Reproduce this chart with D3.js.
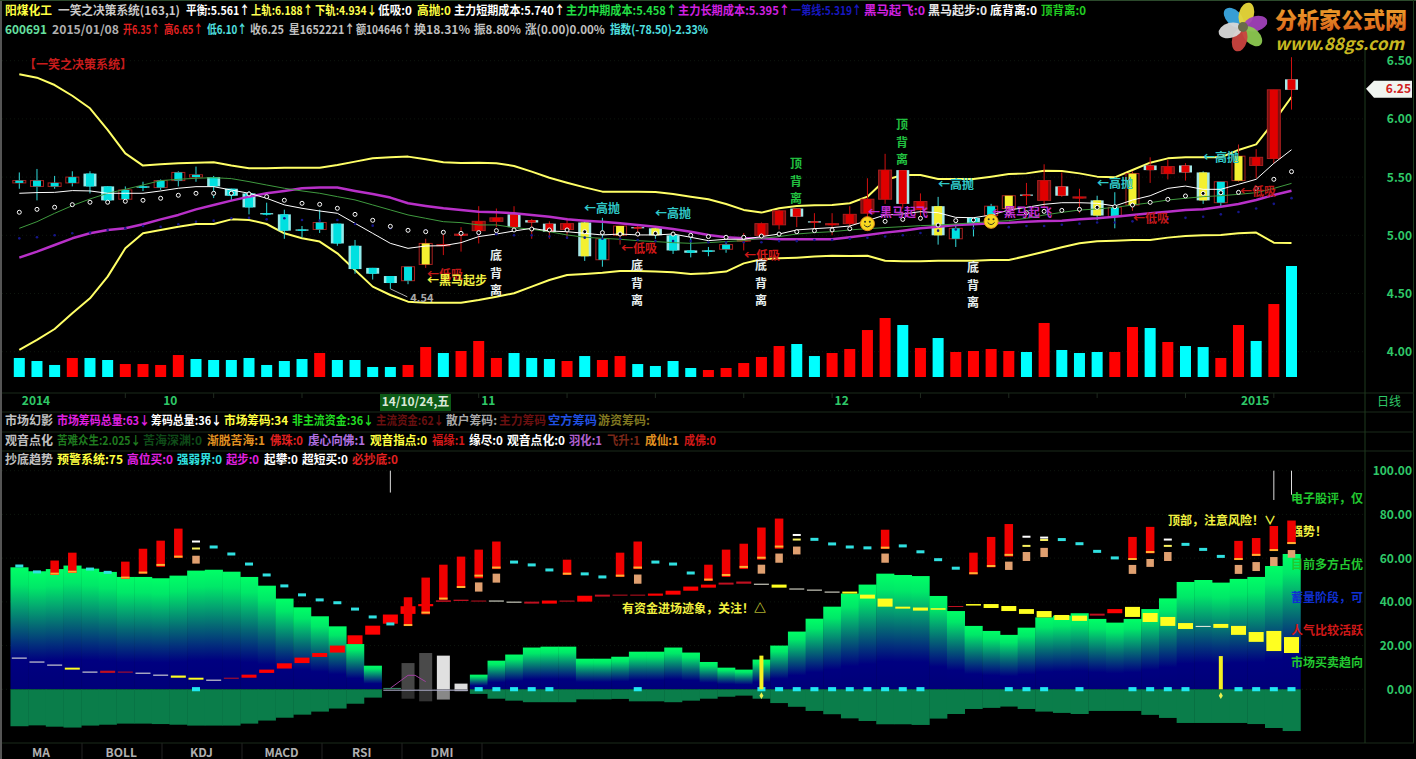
<!DOCTYPE html>
<html><head><meta charset="utf-8">
<script src="https://cdn.jsdelivr.net/npm/d3@7/dist/d3.min.js"></script>
<style>html,body{margin:0;padding:0;background:#000;overflow:hidden}svg{display:block}text{font-family:"Noto Sans CJK SC","Noto Sans",sans-serif}</style>
</head><body><svg id="c" width="1416" height="759"></svg>
<script>
// ---------- candle data ----------
const bodyHigh=[5.47,5.47,5.45,5.50,5.53,5.42,5.39,5.42,5.47,5.54,5.52,5.50,5.40,5.36,5.19,5.18,5.05,5.11,5.10,4.91,4.72,4.65,4.73,4.93,4.92,5.01,5.12,5.15,5.18,5.13,5.10,5.10,5.11,4.97,5.08,5.07,5.06,5.00,4.87,4.87,4.92,4.96,5.10,5.21,5.23,5.12,5.10,5.18,5.31,5.56,5.56,5.29,5.25,5.06,5.15,5.25,5.34,5.35,5.47,5.42,5.33,5.30,5.24,5.53,5.60,5.59,5.60,5.54,5.46,5.68,5.67,6.25,6.34];
const bodyLow=[5.45,5.42,5.42,5.45,5.42,5.30,5.31,5.41,5.41,5.47,5.50,5.42,5.34,5.24,5.18,5.04,5.04,5.05,4.93,4.71,4.67,4.59,4.61,4.75,4.91,5.00,5.04,5.12,5.07,5.11,5.03,5.05,4.82,4.79,5.00,5.06,5.00,4.87,4.85,4.86,4.88,4.95,5.00,5.09,5.16,5.11,5.09,5.10,5.19,5.31,5.27,5.22,5.00,4.97,5.09,5.17,5.23,5.34,5.30,5.34,5.32,5.17,5.16,5.26,5.56,5.53,5.54,5.30,5.28,5.47,5.60,5.66,6.25];
const high=[5.54,5.57,5.51,5.55,5.55,5.42,5.42,5.46,5.48,5.55,5.59,5.51,5.40,5.38,5.28,5.22,5.08,5.22,5.10,4.96,4.72,4.65,4.73,4.97,5.02,5.07,5.25,5.23,5.25,5.14,5.12,5.15,5.13,5.15,5.08,5.09,5.07,5.03,5.02,4.90,4.95,5.02,5.11,5.22,5.23,5.19,5.19,5.25,5.49,5.70,5.56,5.36,5.33,5.10,5.15,5.27,5.34,5.45,5.61,5.54,5.40,5.34,5.37,5.55,5.67,5.65,5.62,5.55,5.46,5.78,5.74,6.25,6.53];
const low=[5.40,5.30,5.40,5.42,5.36,5.27,5.29,5.38,5.39,5.42,5.46,5.32,5.30,5.18,5.17,4.97,4.98,5.02,4.91,4.67,4.62,4.54,4.58,4.72,4.83,4.86,4.93,5.07,5.05,4.97,4.97,4.97,4.78,4.73,4.92,4.99,4.97,4.84,4.81,4.82,4.85,4.87,4.99,5.05,5.07,5.05,5.00,5.05,5.15,5.27,5.23,5.15,4.92,4.90,4.99,5.13,5.23,5.26,5.23,5.33,5.19,5.13,5.06,5.21,5.45,5.48,5.47,5.27,5.25,5.46,5.49,5.62,6.08];
const outerKind="RRRRCCRCRR"+"RCCCCCCRCC"+"CCRRRRRRLL"+"LRLRRLLCCC"+"RRRRLLRRRR"+"LRLRCRRLRL"+"RLRRLRLLRR"+"RRL";
const innerKind="cccccccccc"+"cccccccccc"+"cccyrrrrrr"+"rrycyryccc"+"crrrrrrrrr"+"rrycccyrrr"+"rycyrrrycy"+"rrr";
// ---------- price overlay lines ----------
const upperBand=[6.383,6.354,6.291,6.199,6.091,5.905,5.704,5.599,5.610,5.619,5.624,5.627,5.599,5.576,5.576,5.581,5.581,5.581,5.604,5.633,5.662,5.670,5.676,5.653,5.627,5.621,5.624,5.619,5.596,5.547,5.495,5.452,5.412,5.375,5.375,5.375,5.372,5.355,5.332,5.309,5.269,5.218,5.195,5.232,5.252,5.258,5.261,5.275,5.332,5.475,5.518,5.518,5.484,5.484,5.484,5.504,5.527,5.532,5.555,5.552,5.532,5.504,5.498,5.561,5.624,5.661,5.670,5.670,5.670,5.733,5.781,5.976,6.188];
const lowerBand=[4.015,4.101,4.195,4.330,4.459,4.645,4.888,5.017,5.046,5.074,5.097,5.097,5.137,5.132,5.097,5.017,4.974,4.946,4.845,4.702,4.559,4.487,4.430,4.421,4.421,4.421,4.444,4.473,4.502,4.559,4.616,4.659,4.668,4.679,4.694,4.694,4.688,4.682,4.668,4.673,4.688,4.759,4.794,4.802,4.808,4.817,4.825,4.822,4.825,4.782,4.777,4.777,4.782,4.782,4.782,4.788,4.788,4.822,4.859,4.897,4.931,4.948,4.954,4.960,4.960,4.980,4.994,5.000,5.002,5.017,5.023,4.937,4.934];
const shortCost=[5.361,5.367,5.369,5.384,5.381,5.361,5.361,5.361,5.381,5.404,5.418,5.418,5.389,5.361,5.318,5.261,5.232,5.209,5.189,5.103,5.017,4.931,4.888,4.908,4.911,4.937,4.989,5.011,5.037,5.060,5.037,5.031,5.017,5.003,5.011,5.003,5.003,5.011,4.983,4.954,4.966,4.966,4.989,5.011,5.046,5.057,5.066,5.080,5.126,5.175,5.183,5.203,5.194,5.154,5.151,5.174,5.217,5.240,5.266,5.280,5.280,5.275,5.252,5.303,5.340,5.403,5.423,5.395,5.395,5.438,5.481,5.618,5.735];
const midCost=[5.060,5.117,5.189,5.255,5.312,5.361,5.395,5.432,5.470,5.481,5.490,5.495,5.487,5.461,5.432,5.404,5.381,5.361,5.332,5.304,5.261,5.218,5.175,5.146,5.117,5.109,5.089,5.089,5.066,5.052,5.031,5.003,4.983,4.974,4.966,4.954,4.946,4.937,4.931,4.937,4.946,4.954,4.974,4.989,5.011,5.023,5.031,5.046,5.057,5.066,5.074,5.083,5.088,5.097,5.108,5.117,5.126,5.146,5.174,5.197,5.217,5.226,5.240,5.260,5.280,5.303,5.318,5.332,5.340,5.352,5.366,5.403,5.446];
const longCost=[4.808,4.860,4.917,4.974,5.017,5.046,5.060,5.095,5.137,5.175,5.223,5.261,5.298,5.332,5.361,5.381,5.404,5.410,5.410,5.381,5.355,5.324,5.275,5.252,5.232,5.218,5.203,5.198,5.189,5.175,5.160,5.137,5.126,5.117,5.103,5.089,5.074,5.054,5.031,5.003,4.983,4.974,4.974,4.966,4.966,4.966,4.966,4.983,5.003,5.023,5.040,5.060,5.074,5.088,5.094,5.103,5.108,5.117,5.123,5.126,5.137,5.146,5.160,5.174,5.189,5.203,5.217,5.223,5.246,5.269,5.303,5.346,5.383];
const balance=[5.198,5.223,5.241,5.263,5.284,5.284,5.292,5.301,5.318,5.344,5.361,5.361,5.361,5.355,5.332,5.301,5.275,5.266,5.232,5.180,5.129,5.077,5.043,5.031,5.026,5.017,5.023,5.040,5.046,5.054,5.046,5.046,5.031,5.023,5.011,5.011,5.017,5.011,5.000,4.989,4.983,4.983,4.994,5.011,5.031,5.040,5.046,5.057,5.097,5.120,5.137,5.146,5.088,5.126,5.131,5.146,5.189,5.194,5.206,5.214,5.223,5.240,5.246,5.260,5.283,5.309,5.338,5.360,5.366,5.369,5.403,5.481,5.547];
const firstLine=[4.974,4.983,5.00,5.017,5.023,5.046,5.06,5.08,5.074,5.095,5.117,5.126,5.146,5.15,5.137,5.146,5.132,5.126,5.132,5.097,5.083,5.06,5.05,5.04,5.03,5.02,5.01,5.01,5.00,5.00,4.99,4.98,4.98,4.97,4.97,4.96,4.95,4.95,4.95,4.94,4.94,4.94,4.94,4.95,4.95,4.96,4.96,4.97,4.98,4.99,5.00,5.02,5.04,5.05,5.06,5.07,5.07,5.08,5.08,5.09,5.10,5.11,5.11,5.12,5.13,5.14,5.15,5.16,5.18,5.20,5.23,5.27,5.319];
// ---------- volume (×10000) ----------
const volume=[28.3,23.8,17.9,28.3,28.3,25.3,19.3,19.3,17.9,32.7,26.8,25.3,25.3,28.3,17.9,23.8,26.8,35.7,25.3,25.3,14.9,14.9,17.9,44.6,35.7,38.7,53.6,28.3,35.7,28.3,26.8,23.8,31.2,25.3,31.2,19.3,16.4,23.8,13.4,10.4,13.4,20.8,29.8,46.1,49.1,31.2,35.7,41.7,69.9,87.8,77.4,43.2,58.0,37.2,38.7,41.7,38.7,37.2,80.4,40.2,35.7,37.2,37.2,74.4,72.9,52.1,46.1,44.6,28.3,77.4,53.6,108.6,165.2];
const volumeUp=[0,0,0,1,0,0,1,1,1,1,0,0,0,0,0,0,0,1,0,0,0,0,1,1,0,1,1,1,0,0,0,1,0,1,1,0,0,0,0,1,1,1,1,1,0,0,1,1,1,1,0,1,0,1,1,1,1,0,1,0,0,0,1,1,0,1,0,0,1,1,0,1,0];
// ---------- lower pane ----------
const areaTop=[55.8,54.0,55.0,56.6,55.2,53.7,51.4,51.4,50.8,52.0,54.3,54.7,53.8,51.4,47.4,41.5,37.5,33.4,28.8,20.7,10.8,0,0,0,0,0,6.7,13.1,15.9,19.1,19.5,19.5,14.0,14.0,14.9,17.2,17.2,19.1,16.8,12.5,9.9,9.0,13.6,20.0,26.4,32.3,37.8,43.8,47.9,52.9,52.3,51.8,42.7,35.8,29.0,26.7,24.9,28.2,32.9,33.7,34.8,32.2,30.5,32.2,36.7,41.6,49.1,50.0,48.8,50.5,51.4,56.4,61.9];
const areaBottom=[16.9,16.5,17.1,17.5,16.6,16.2,15.7,15.7,15.9,16.2,16.6,16.6,16.6,15.7,14.3,13.0,11.6,10.2,8.8,6.6,3.8,0,0,0,0,0,2.1,4.3,5.2,5.9,5.9,5.9,4.6,4.6,4.4,5.5,5.5,5.9,5.2,4.3,3.4,2.9,4.3,6.3,8.0,9.9,11.4,13.3,14.5,16.0,16.0,16.3,13.4,11.3,9.0,8.5,7.9,9.0,10.2,10.8,11.3,9.9,9.9,9.9,11.7,13.1,15.4,15.4,15.4,15.4,15.9,17.7,19.1];
const blockHigh=[14.5,12.7,11.3,9.9,8.1,8.5,8.1,7.6,6.7,6.3,5.3,4.4,5.3,6.7,9.0,11.9,14.5,16.6,20.0,24.7,29.1,34.2,38.0,39.0,40.7,41.0,40.6,40.6,40.1,40.1,40.6,40.6,42.8,43.3,43.3,43.3,43.8,45.1,47.0,47.9,48.8,49.3,48.3,47.9,46.1,45.6,44.7,44.7,43.3,41.5,37.8,37.4,37.1,38.1,39.0,39.0,38.1,36.7,35.8,34.0,33.7,34.6,36.7,37.7,34.9,33.1,30.3,29.0,29.9,29.0,26.2,26.7,23.9];
const blockLow=[14.2,12.4,11.0,9.0,7.8,7.5,7.8,7.3,6.4,5.3,4.4,4.1,4.9,5.3,7.5,9.5,12.0,14.8,16.8,20.7,25.0,30.0,34.5,38.0,40.0,40.4,40.3,40.3,39.8,39.2,39.2,40.1,40.1,42.4,43.0,43.0,42.8,43.3,45.1,46.5,47.9,48.3,48.0,46.5,45.7,45.3,44.4,43.8,41.5,37.8,36.9,36.0,36.4,37.7,38.3,37.2,35.8,34.5,32.9,31.7,31.3,33.7,34.8,33.1,30.8,29.0,27.6,28.7,28.1,24.9,21.7,17.5,16.6];
const blockKind="wwwywddwwy"+"ywdrrrrrrr"+"rrrrdddwwd"+"rdrdddrrrr"+"ddwywwwyyy"+"yyydyyyyyy"+"ydryyyywyy"+"yyy";
const riseIdx=[2,3,6,7,8,9,22,23,24,25,26,27,31,34,35,39,40,41,42,43,49,54,55,56,63,64,69,70,71,72];
const riseTop=[58.9,62.5,58.4,64.3,68.0,73.5,42.1,51.1,57.0,60.7,63.9,67.6,59.3,62.5,67.6,57.0,63.9,66.6,74.0,78.1,73.0,62.5,69.7,75.6,69.7,74.3,67.9,69.2,74.7,77.2];
const riseBottom=[52.3,53.2,50.5,52.9,56.0,60.1,29.0,34.3,41.0,46.4,50.8,55.0,52.3,51.4,55.0,49.6,51.4,55.0,59.3,64.3,64.2,52.6,55.8,60.7,59.2,62.2,59.2,61.0,63.3,66.5];
const riseTick=[52.9,53.8,51.1,53.4,56.9,60.7,29.4,35.1,41.5,46.8,52.0,55.7,52.9,52.0,55.7,50.2,52.3,56.0,60.2,65.3,64.8,53.1,56.4,61.5,59.6,62.8,59.6,61.5,63.7,66.9];
const tanIdx=[10,26,27,35,42,43,44,49,56,57,58,63,64,65,69,70,71,72];
const tanTop=[61.1,48.9,52.9,52.5,57.0,62.1,65.3,62.1,58.4,62.8,64.7,56.9,59.6,62.8,56.9,58.2,60.5,63.7];
const tanBottom=[57.5,44.7,48.8,48.3,52.9,57.9,61.7,57.9,54.6,58.7,60.5,52.8,56.0,58.7,52.8,54.1,56.4,60.2];
const flagIdx=[10,44,57,58,65];
const flagWhite=[67.6,70.6,69.8,69.4,68.5];
const flagYellow=[64.4,68.5,65.6,68.3,65.6];
const cyanIdx=[0,1,4,5,11,12,13,14,15,16,17,18,19,20,21,28,29,30,32,33,36,37,38,45,46,47,48,50,51,52,53,59,60,61,62,66,67,68];
const cyanVal=[56.4,53.7,55.0,53.5,65.1,61.9,57.3,52.3,47.3,43.2,40.9,39.6,36.7,33.1,29.9,58.2,56.9,54.6,52.8,51.4,58.2,57.3,53.2,68.6,66.5,65.1,64.7,65.6,62.9,59.3,55.4,68.5,66.6,63.1,60.1,66.3,64.0,60.8];
const zeroSquareIdx=[10,26,27,28,29,30,35,42,43,44,45,46,47,48,49,50,51,56,57,58,60,63,64,65,66,69,70,71,72];
const alarmIdx=[42,68], alarmTop=[15.4,15.2], alarmDot=[-2.9,-2.9];
const grayIdx=[22,23,24,25], grayTop=[12.0,16.6,15.4,2.6], grayBottom=[-4.3,-5.5,-4.7,-0.9];
const grayFillTop=["#464646","#4a4a4a","#e0e0e0","#dcdcdc"], grayFillBottom=["#2e2e2e","#333333","#888888","#888888"];
const spikeIdx=[21,71,72], spikeEnd=[90,86.6,89];
const purpleIdx=[21,22,22.4,23], purpleVal=[0.5,6.4,6.4,3.5];
const priceTicks=[6.5,6.0,5.5,5.0,4.5,4.0];
const indTicks=[100,80,60,40,20,0];
const dateIdx=[0,8,26,46,69], dateLabels=["2014","10","11","12","2015"];
const smileIdx=[48,55], smilePrice=[5.10,5.12];
const tabs=["MA","BOLL","KDJ","MACD","RSI","DMI"];
const flowerColors=["#3aa7e0","#e8d83a","#a040b8","#8cc850","#c9433f","#d8d8d8"];
// header rows [text,color,x,width]
const headerRows=[
 [11,[["阳煤化工","#ffff40",5,47],["一笑之决策系统(163,1)","#c8c8c8",58,122],["平衡:5.561↑","#ffffff",186,64],["上轨:6.188↑","#ffff50",251,62],["下轨:4.934↓","#ffff50",315,62],["低吸:0","#ffffff",378,34],["高抛:0","#ffff40",417,34],["主力短期成本:5.740↑","#ffffff",454,111],["主力中期成本:5.458↑","#22dd44",566,111],["主力长期成本:5.395↑","#d020e0",678,112],["一第线:5.319↑","#1818c0",791,71],["黑马起飞:0","#d020e0",864,61],["黑马起步:0","#e8e8e8",928,59],["底背离:0","#ffffff",990,47],["顶背离:0","#22cc22",1041,45]]],
 [30,[["600691","#66e0a0",5,42],["2015/01/08","#b0b0b0",52,67],["开6.35↑","#e02020",123,37],["高6.65↑","#e02020",164,39],["低6.10↑","#50e0e0",207,40],["收6.25","#c0c0c0",250,34],["星1652221↑","#c0c0c0",289,66],["额104646↑","#c0c0c0",356,56],["换18.31%","#c0c0c0",414,56],["振8.80%","#c0c0c0",474,47],["涨(0.00)0.00%","#c0c0c0",525,80],["指数(-78.50)-2.33%","#50e0e0",610,98]]],
 [421,[["市场幻影","#c0c0c0",5,48],["市场筹码总量:63↓","#e020e0",57,93],["筹码总量:36↓","#ffffff",151,71],["市场筹码:34","#ffff40",224,64],["非主流资金:36↓","#22dd22",292,82],["主流资金:62↓","#6a1010",376,68],["散户筹码:","#a8a8a8",446,51],["主力筹码","#6a1010",499,47],["空方筹码","#2050e0",548,49],["游资筹码:","#807820",598,52]]],
 [441,[["观音点化","#c0c0c0",5,48],["苦难众生:2.025↓","#1f7a1f",57,84],["苦海深渊:0","#0f4a18",143,59],["渐脱苦海:1","#e09020",207,58],["佛珠:0","#e02020",270,33],["虔心向佛:1","#b070e0",308,57],["观音指点:0","#ffff40",370,57],["福缘:1","#d01818",432,33],["缘尽:0","#ffffff",469,34],["观音点化:0","#ffffff",507,58],["羽化:1","#b060d0",569,33],["飞升:1","#7a2818",607,33],["成仙:1","#e09020",645,34],["成佛:0","#d01818",684,32]]],
 [460,[["抄底趋势","#c0c0c0",5,48],["预警系统:75","#ffff40",57,66],["高位买:0","#e020e0",127,46],["强弱界:0","#30e0e0",177,45],["起步:0","#e020e0",226,33],["起攀:0","#ffffff",264,34],["超短买:0","#ffffff",302,46],["必抄底:0","#e02020",352,46]]]
];
// floating labels [text,color,x,y]
const priceNotes=[["【一笑之决策系统】","#c81c1c",24,65],
 ["←高抛","#30c8c8",584,209],["←高抛","#30c8c8",655,214],["←高抛","#30c8c8",938,185],["←高抛","#30c8c8",1097,184],["←高抛","#30c8c8",1203,158],
 ["←低吸","#c01818",427,275],["←低吸","#d01818",621,249],["←低吸","#d01818",744,256],["←低吸","#c01818",1133,219],["←低吸","#c01818",1240,192],
 ["←黑马起步","#f0f040",427,281],["←黑马起飞","#c030d0",868,213],["←黑马起飞","#c030d0",992,213]];
const verticalNotes=[["底","背","离","#e8f0f0",496,255],["底","背","离","#e8f0f0",637,265],["底","背","离","#e8f0f0",761,265],["底","背","离","#e8f0f0",973,267],["顶","背","离","#22c040",796,163],["顶","背","离","#22c040",902,124]];
const indicatorNotes=[["有资金进场迹象，关注！△","#f0f040",622,609],["顶部，注意风险！∨","#f0f040",1168,521]];
const sideNotes=[["电子股评，仅","#22c830",499],["强势！","#f0f040",532],["目前多方占优","#22c830",565],["蓄量阶段，可","#1030d0",598],["人气比较活跃","#d01818",631],["市场买卖趋向","#22c830",663]];

// ---------- scales ----------
const n=bodyHigh.length;
const x=d3.scaleLinear().domain([0,72]).range([19.3,1291.5]);
const yP=d3.scaleLinear().domain([4,6.5]).range([351.7,60.7]);
const yV=d3.scaleLinear().domain([0,d3.max(volume)]).range([377,266]);
const yI=d3.scaleLinear().domain([0,100]).range([689.3,470.7]);
const step=x(1)-x(0);
const idx=d3.range(n);
const svg=d3.select("#c");
const defs=svg.append("defs");
const grad=defs.append("linearGradient").attr("id","areaGrad").attr("x1",0).attr("y1",0).attr("x2",0).attr("y2",1);
[[0,"#00ff66"],[.14,"#00e868"],[.3,"#04a870"],[.46,"#056a74"],[.62,"#03307c"],[.76,"#000080"],[1,"#000078"]].forEach(s=>grad.append("stop").attr("offset",s[0]).attr("stop-color",s[1]));
const logoGrad=defs.append("linearGradient").attr("id","logoGrad").attr("x1",0).attr("y1",0).attr("x2",0).attr("y2",1);
logoGrad.append("stop").attr("offset",0).attr("stop-color","#f0b030");
logoGrad.append("stop").attr("offset",1).attr("stop-color","#d85a18");
defs.append("clipPath").attr("id","sideClip").append("rect").attr("x",1289).attr("y",465).attr("width",76).attr("height",220);

// ---------- frame ----------
const frame=svg.append("g");
frame.append("rect").attr("x",0).attr("y",0).attr("width",2).attr("height",759).attr("fill","#555");
frame.append("rect").attr("x",0).attr("y",0).attr("width",1416).attr("height",1).attr("fill","#2c4a2c");
frame.append("rect").attr("x",1413).attr("y",0).attr("width",1).attr("height",743).attr("fill","#1d3a1d");
frame.selectAll("line.h").data([393,412,432,451,743]).join("line").attr("x1",2).attr("x2",1414).attr("y1",d=>d).attr("y2",d=>d).attr("stroke","#1b2a1b");
frame.append("line").attr("x1",1365).attr("x2",1365).attr("y1",50).attr("y2",743).attr("stroke","#1f3a1f");
frame.selectAll("line.p").data(priceTicks).join("line").attr("class","p").attr("x1",2).attr("x2",1365).attr("y1",d=>yP(d)).attr("y2",d=>yP(d)).attr("stroke","#0e160e").attr("stroke-dasharray","1 3");
frame.selectAll("line.i").data(indTicks).join("line").attr("class","i").attr("x1",2).attr("x2",1365).attr("y1",d=>yI(d)).attr("y2",d=>yI(d)).attr("stroke","#0e160e").attr("stroke-dasharray","1 3");

// ---------- volume ----------
svg.append("g").selectAll("rect").data(idx).join("rect")
 .attr("x",i=>x(i)-5.5).attr("width",11).attr("y",i=>yV(volume[i])).attr("height",i=>377-yV(volume[i]))
 .attr("fill",i=>volumeUp[i]?"#ff0000":"#00ffff");

// ---------- bands behind candles ----------
const lineOf=(arr,scale)=>d3.line().x(i=>x(i)).y(i=>scale(arr[i]));
const path=(arr,color,w,scale=yP)=>svg.append("path").attr("d",lineOf(arr,scale)(idx)).attr("fill","none").attr("stroke",color).attr("stroke-width",w).attr("stroke-linejoin","round");
path(upperBand,"#ffff66",2);
path(lowerBand,"#ffff66",2);

// ---------- candles ----------
const innerColors={c:"#00e0e0",r:"#e00000",y:"#f4f030"};
const wickColor=i=>{const o=outerKind[i],k=innerKind[i];if(k==="y")return o==="L"?"#40d8d8":"#c02020";return k==="r"?"#d01010":"#30dcdc";};
const cg=svg.append("g");
cg.selectAll("line").data(idx).join("line").attr("x1",i=>x(i)).attr("x2",i=>x(i)).attr("y1",i=>yP(high[i])).attr("y2",i=>yP(low[i])).attr("stroke",wickColor).attr("stroke-width",1);
cg.selectAll("rect.o").data(idx).join("rect").attr("class","o")
 .attr("x",i=>x(i)-6.5).attr("width",13).attr("y",i=>yP(bodyHigh[i])).attr("height",i=>Math.max(1,yP(bodyLow[i])-yP(bodyHigh[i])))
 .attr("fill",i=>outerKind[i]==="R"?(innerKind[i]==="r"?"#7a1010":"#000"):(outerKind[i]==="C"?"#8feaea":"#a6e8e8")).attr("stroke",i=>outerKind[i]==="R"?"#a82020":"none");
cg.selectAll("rect.n").data(idx).join("rect").attr("class","n")
 .attr("x",i=>x(i)-4).attr("width",8).attr("y",i=>yP(bodyHigh[i])).attr("height",i=>Math.max(1.5,yP(bodyLow[i])-yP(bodyHigh[i])))
 .attr("fill",i=>innerColors[innerKind[i]]);

// ---------- overlay lines ----------
path(longCost,"#b830c8",2.5);
path(midCost,"#3f9a3f",1);
path(shortCost,"#ffffff",1);
svg.append("g").selectAll("circle").data(idx).join("circle").attr("cx",i=>x(i)).attr("cy",i=>yP(firstLine[i])).attr("r",1.3).attr("fill","#16168a");
svg.append("g").selectAll("circle").data(idx).join("circle").attr("cx",i=>x(i)).attr("cy",i=>yP(balance[i])).attr("r",2).attr("fill","#000").attr("stroke","#fff").attr("stroke-width",1);

// low marker
svg.append("line").attr("x1",x(21)).attr("y1",yP(low[21])).attr("x2",x(21)+17).attr("y2",yP(low[21])+8).attr("stroke","#aaa");
svg.append("text").attr("x",x(21)+20).attr("y",302).attr("font-size",11).attr("font-weight",700).attr("fill","#aaa").text(d3.format(".2f")(low[21]));

// smileys
const sm=svg.append("g").selectAll("g").data(smileIdx).join("g").attr("transform",(d,k)=>`translate(${x(d)},${yP(smilePrice[k])})`);
sm.append("circle").attr("r",7).attr("fill","#f8d820").attr("stroke","#e8901c");
sm.append("circle").attr("cx",-2.4).attr("cy",-2).attr("r",1).attr("fill","#332");
sm.append("circle").attr("cx",2.4).attr("cy",-2).attr("r",1).attr("fill","#332");
sm.append("path").attr("d","M-3.5,1 Q0,5.5 3.5,1").attr("fill","none").attr("stroke","#332").attr("stroke-width",1);

// notes
const notes=svg.append("g");
notes.selectAll("text").data(priceNotes).join("text").attr("x",d=>d[2]).attr("y",d=>d[3]+4).attr("font-size",12).attr("font-weight",700).attr("fill",d=>d[1]).text(d=>d[0]);
verticalNotes.forEach(v=>{[0,1,2].forEach(k=>notes.append("text").attr("x",v[4]).attr("y",v[5]+k*17.5+5).attr("text-anchor","middle").attr("font-size",12).attr("font-weight",700).attr("fill",v[3]).text(v[k]));});

// ---------- lower pane ----------
const lower=svg.append("g");
lower.selectAll("rect.a").data(idx.filter(i=>areaTop[i]>0)).join("rect").attr("class","a")
 .attr("x",i=>x(i)-step/2).attr("width",step+.4).attr("y",i=>yI(areaTop[i])).attr("height",i=>yI(0)-yI(areaTop[i])).attr("fill","url(#areaGrad)");
lower.selectAll("rect.b").data(idx.filter(i=>areaBottom[i]>0)).join("rect").attr("class","b")
 .attr("x",i=>x(i)-step/2).attr("width",step+.4).attr("y",yI(0)).attr("height",i=>yI(-areaBottom[i])-yI(0)).attr("fill","#0a7d4a");
// gray bars
lower.selectAll("rect.g1").data(grayIdx).join("rect").attr("class","g1").attr("x",d=>x(d)-6.5).attr("width",13).attr("y",(d,k)=>yI(grayTop[k])).attr("height",(d,k)=>yI(0)-yI(grayTop[k])).attr("fill",(d,k)=>grayFillTop[k]);
lower.selectAll("rect.g2").data(grayIdx).join("rect").attr("class","g2").attr("x",d=>x(d)-6.5).attr("width",13).attr("y",yI(0)).attr("height",(d,k)=>yI(grayBottom[k])-yI(0)).attr("fill",(d,k)=>grayFillBottom[k]);
lower.append("path").attr("d",d3.line().x(d=>x(d)).y((d,k)=>yI(purpleVal[k]))(purpleIdx)).attr("fill","none").attr("stroke","#a040a0");
lower.append("line").attr("x1",x(20.6)).attr("x2",x(25.4)).attr("y1",yI(-0.4)).attr("y2",yI(-0.4)).attr("stroke","#b8b8d8");
lower.append("line").attr("x1",x(20.6)).attr("x2",x(21.6)).attr("y1",yI(0.4)).attr("y2",yI(0.4)).attr("stroke","#3a8a6a");
// spikes
lower.selectAll("line.s").data(spikeIdx).join("line").attr("class","s").attr("x1",d=>x(d)).attr("x2",d=>x(d)).attr("y1",yI(100)).attr("y2",(d,k)=>yI(spikeEnd[k])).attr("stroke","#ddd");
// side commentary (clipped)
const side=lower.append("g").attr("clip-path","url(#sideClip)");
side.selectAll("text").data(sideNotes).join("text").attr("x",1291).attr("y",d=>d[2]+4).attr("font-size",12).attr("font-weight",700).attr("fill",d=>d[1]).text(d=>d[0]);
// rising bars
const bar=(sel,cls,ids,tops,bots,w,fill)=>sel.selectAll("rect."+cls).data(ids).join("rect").attr("class",cls).attr("x",d=>x(d)-w/2).attr("width",w).attr("y",(d,k)=>yI(tops[k])).attr("height",(d,k)=>Math.max(1,yI(bots[k])-yI(tops[k]))).attr("fill",fill);
const blockColors={w:"#f0f0e0",y:"#ffff20",r:"#ff0000",d:"#c01020"};
lower.selectAll("rect.k").data(idx).join("rect").attr("class","k").attr("x",i=>x(i)-7.5).attr("width",15).attr("y",i=>yI(blockHigh[i])).attr("height",i=>Math.max(1,yI(blockLow[i])-yI(blockHigh[i]))).attr("fill",i=>blockColors[blockKind[i]]);
bar(lower,"r",riseIdx,riseTop,riseBottom,8.5,"#f00000");
lower.selectAll("rect.t").data(riseIdx).join("rect").attr("class","t").attr("x",d=>x(d)-4.25).attr("width",8.5).attr("y",(d,k)=>yI(riseTick[k])-1).attr("height",2).attr("fill","#ffb030");
bar(lower,"n",tanIdx,tanTop,tanBottom,7.5,"#e0a070");
lower.selectAll("rect.fw").data(flagIdx).join("rect").attr("class","fw").attr("x",d=>x(d)-4).attr("width",8).attr("y",(d,k)=>yI(flagWhite[k])-1).attr("height",2).attr("fill","#fff");
lower.selectAll("rect.fy").data(flagIdx).join("rect").attr("class","fy").attr("x",d=>x(d)-4).attr("width",8).attr("y",(d,k)=>yI(flagYellow[k])-1).attr("height",2).attr("fill","#f8f060");
lower.selectAll("rect.c").data(cyanIdx).join("rect").attr("class","c").attr("x",d=>x(d)-4).attr("width",8).attr("y",(d,k)=>yI(cyanVal[k])-1.5).attr("height",3).attr("fill","#30e0e0");
lower.selectAll("rect.z").data(zeroSquareIdx).join("rect").attr("class","z").attr("x",d=>x(d)-4).attr("width",8).attr("y",yI(1)).attr("height",yI(-0.9)-yI(1)).attr("fill","#20e8f0");
lower.selectAll("rect.al").data(alarmIdx).join("rect").attr("class","al").attr("x",d=>x(d)-2).attr("width",4).attr("y",(d,k)=>yI(alarmTop[k])).attr("height",(d,k)=>yI(0)-yI(alarmTop[k])).attr("fill","#f4f020");
lower.selectAll("path.dm").data(alarmIdx).join("path").attr("class","dm").attr("d",d3.symbol().type(d3.symbolDiamond).size(14)).attr("transform",(d,k)=>`translate(${x(d)},${yI(alarmDot[k])})`).attr("fill","#e8f050");
lower.selectAll("text.nt").data(indicatorNotes).join("text").attr("class","nt").attr("x",d=>d[2]).attr("y",d=>d[3]+4).attr("font-size",12).attr("font-weight",700).attr("fill",d=>d[1]).text(d=>d[0]);

// ---------- axes ----------
const tickStyle=g=>{g.select(".domain").remove();g.selectAll("line").remove();g.selectAll("text").attr("text-anchor","end").attr("x",0).attr("dy","0.34em").attr("fill","#2fc868").attr("font-size",12).attr("font-weight",700).attr("font-family","'Noto Sans',sans-serif");};
svg.append("g").attr("transform","translate(1412,0)").call(d3.axisRight(yP).tickValues(priceTicks).tickFormat(d3.format(".2f")).tickSize(0)).call(tickStyle);
svg.append("g").attr("transform","translate(1412,0)").call(d3.axisRight(yI).tickValues(indTicks).tickFormat(d3.format(".2f")).tickSize(0)).call(tickStyle);
const xAxis=svg.append("g").attr("transform","translate(0,401)").call(d3.axisBottom(x).tickValues(dateIdx).tickFormat((d,k)=>dateLabels[k]).tickSize(0));
xAxis.select(".domain").remove();
xAxis.selectAll("text").attr("text-anchor","start").attr("x",2).attr("y",0).attr("dy","0.34em").attr("fill","#2fc868").attr("font-size",12).attr("font-weight",700).attr("font-family","'Noto Sans',sans-serif");
svg.append("g").selectAll("line").data(d3.range(6,72,5)).join("line").attr("x1",d=>x(d)).attr("x2",d=>x(d)).attr("y1",393).attr("y2",398).attr("stroke","#1f2a1f");
svg.append("rect").attr("x",380).attr("y",394).attr("width",71).attr("height",17).attr("fill","#0c5a16");
svg.append("text").attr("x",415.5).attr("y",406).attr("text-anchor","middle").attr("font-size",12).attr("font-weight",700).attr("fill","#d8e8d8").text("14/10/24,五");
svg.append("text").attr("x",1389).attr("y",406).attr("text-anchor","middle").attr("font-size",12).attr("fill","#2fc868").text("日线");
// price tag
const lastClose=bodyLow[72];
const tagY=yP(lastClose);
svg.append("path").attr("d",`M1366,${tagY-1} L1374,${tagY-9} L1412,${tagY-9} L1412,${tagY+8} L1374,${tagY+8} Z`).attr("fill","#f0f4f0");
svg.append("text").attr("x",1411).attr("y",tagY+3.5).attr("text-anchor","end").attr("font-size",12).attr("font-weight",700).attr("font-family","'Noto Sans',sans-serif").attr("fill","#d02020").text(d3.format(".2f")(lastClose));

// ---------- header text ----------
headerRows.forEach(([y,items])=>{
 svg.append("g").selectAll("text").data(items).join("text").attr("x",d=>d[2]).attr("y",y+4).attr("textLength",d=>d[3]).attr("lengthAdjust","spacingAndGlyphs").attr("font-size",12).attr("font-weight",700).attr("fill",d=>d[1]).text(d=>d[0]);
});
// tabs
const tabG=svg.append("g");
tabG.selectAll("text").data(tabs).join("text").attr("x",(d,k)=>41+k*80.2).attr("y",757).attr("text-anchor","middle").attr("font-size",12).attr("font-weight",700).attr("fill","#b0b0b0").attr("font-family","'Noto Sans',sans-serif").text(d=>d);
tabG.selectAll("line").data(tabs).join("line").attr("x1",(d,k)=>82+k*80).attr("x2",(d,k)=>82+k*80).attr("y1",743).attr("y2",759).attr("stroke","#222");
// logo
const logo=svg.append("g").attr("transform","translate(1243,27)");
logo.selectAll("ellipse").data(flowerColors).join("ellipse").attr("cx",0).attr("cy",-13).attr("rx",7.5).attr("ry",12).attr("fill",d=>d).attr("transform",(d,k)=>`rotate(${-45+k*60})`).attr("opacity",.95);
logo.append("circle").attr("r",5).attr("fill","#6a6a4a");
svg.append("text").attr("x",1275).attr("y",28).attr("font-size",22).attr("font-weight",900).attr("fill","url(#logoGrad)").attr("textLength",132).attr("lengthAdjust","spacingAndGlyphs").text("分析家公式网");
svg.append("text").attr("x",1275).attr("y",50).attr("font-size",17).attr("font-weight",700).attr("font-style","italic").attr("font-family","'DejaVu Sans',sans-serif").attr("fill","#c8b820").attr("textLength",129).attr("lengthAdjust","spacingAndGlyphs").text("www.88gs.com");
</script></body></html>
